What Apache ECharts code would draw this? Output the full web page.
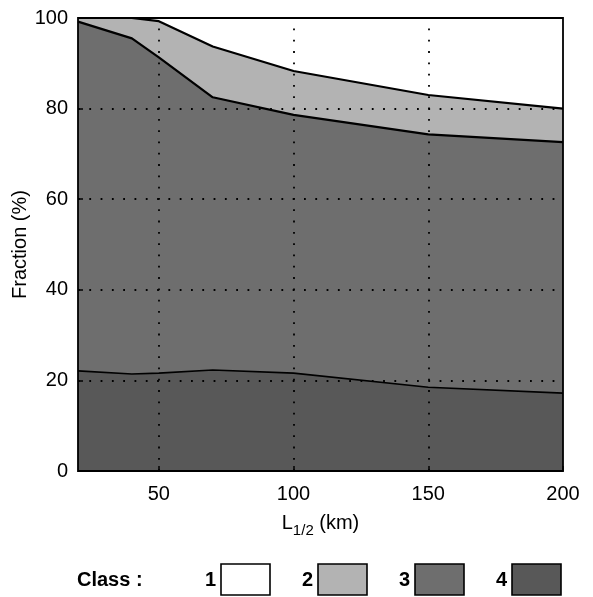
<!DOCTYPE html>
<html>
<head>
<meta charset="utf-8">
<style>
  html, body { margin: 0; padding: 0; background: #ffffff; }
  #chart { width: 593px; height: 597px; }
</style>
<script src="https://cdn.jsdelivr.net/npm/echarts@6/dist/echarts.min.js"></script>
</head>
<body>
<div id="chart"></div>
<script>
// Half-length scale L1/2 (km)
const lengths = [20, 40, 50, 70, 100, 150, 200];

// Fraction (%) of each class at every scale
const class4 = [22.1, 21.4, 21.6, 22.3, 21.6, 18.5, 17.2];
const class3 = [77.1, 74.1, 69.7, 60.2, 57.0, 55.8, 55.4];
const class2 = [0.8, 4.5, 8.0, 11.2, 9.7, 8.7, 7.4];
const class1 = [0.0, 0.0, 0.7, 6.3, 11.7, 17.0, 20.0];

const classNames = ['1', '2', '3', '4'];
const xTicks = [50, 100, 150, 200];
const xGrid = [50, 100, 150];
const yGrid = [20, 40, 60, 80];

const fills = { '1': '#ffffff', '2': '#b3b3b3', '3': '#6e6e6e', '4': '#585858' };
const FONT = '"Liberation Sans", Arial, Helvetica, sans-serif';

// Running totals: class 4 at the bottom, class 1 on top
const layers = [['4', class4], ['3', class3], ['2', class2], ['1', class1]];
const cumulative = [];
let running = lengths.map(() => 0);
layers.forEach(([name, vals]) => {
  running = running.map((r, i) => r + vals[i]);
  cumulative.push({ name, top: running.slice() });
});

function areaSeries(name, tops, z) {
  return {
    name: name,
    type: 'line',
    data: lengths.map((x, i) => [x, tops[i]]),
    symbol: 'none',
    smooth: false,
    lineStyle: { color: '#000', width: name === '4' ? 1.6 : 2.2 },
    areaStyle: { color: fills[name], opacity: 1, origin: 'start' },
    z: z,
    silent: true
  };
}

const dotted = { color: '#000', width: 1.8, type: [1.8, 9.5] };

const chart = echarts.init(document.getElementById('chart'), null, { renderer: 'canvas' });

// Legend keys drawn along the bottom
const legendItems = [];
const boxLefts = [221, 318, 415, 512];
legendItems.push({
  type: 'text', left: 77, top: 570,
  style: { text: 'Class :', font: 'bold 20px ' + FONT, fill: '#000' }
});
classNames.forEach((c, i) => {
  legendItems.push({
    type: 'text', left: boxLefts[i] - 16, top: 570,
    style: { text: c, font: 'bold 20px ' + FONT, fill: '#000' }
  });
  legendItems.push({
    type: 'rect',
    shape: { x: boxLefts[i], y: 564, width: 49, height: 31 },
    style: { fill: fills[c], stroke: '#000', lineWidth: 1.6 }
  });
});

// Larger fills first, each smaller cumulative layer painted over it
const series = cumulative.slice().reverse().map((c, k) => areaSeries(c.name, c.top, 2 + k * 0.1));
series.push({
  name: 'grid',
  type: 'line',
  data: [],
  silent: true,
  z: 4,
  markLine: {
    silent: true,
    symbol: 'none',
    label: { show: false },
    lineStyle: dotted,
    data: xGrid.map(v => ({ xAxis: v })).concat(yGrid.map(v => ({ yAxis: v })))
  }
});

chart.setOption({
  animation: false,
  backgroundColor: '#ffffff',
  grid: {
    left: 78, right: 30, top: 18, bottom: 126,
    containLabel: false,
    outerBoundsMode: 'none',
    show: true, borderColor: '#000', borderWidth: 1.8, backgroundColor: 'transparent',
    z: 5
  },
  xAxis: {
    type: 'value',
    min: 20, max: 200,
    name: 'L{sub|1/2} (km)',
    nameLocation: 'middle',
    nameGap: 38,
    nameMoveOverlap: false,
    nameTextStyle: {
      fontFamily: FONT, fontSize: 20, color: '#000',
      rich: { sub: { fontFamily: FONT, fontSize: 15, color: '#000', verticalAlign: 'bottom', padding: [14, 0, 0, 0] } }
    },
    axisLine: { show: false },
    axisTick: { show: true, inside: true, length: 5, customValues: xTicks, lineStyle: { color: '#000', width: 1.5 } },
    axisLabel: { customValues: xTicks, fontFamily: FONT, fontSize: 20, color: '#000', margin: 13 },
    splitLine: { show: false },
    z: 6
  },
  yAxis: {
    type: 'value',
    min: 0, max: 100, interval: 20,
    name: 'Fraction (%)',
    nameLocation: 'middle',
    nameGap: 48,
    nameMoveOverlap: false,
    nameTextStyle: { fontFamily: FONT, fontSize: 20, color: '#000' },
    axisLine: { show: false },
    axisTick: { show: true, inside: true, length: 5, lineStyle: { color: '#000', width: 1.5 } },
    axisLabel: { fontFamily: FONT, fontSize: 20, color: '#000', margin: 10 },
    splitLine: { show: false },
    z: 6
  },
  series: series,
  graphic: legendItems
});
</script>
</body>
</html>
